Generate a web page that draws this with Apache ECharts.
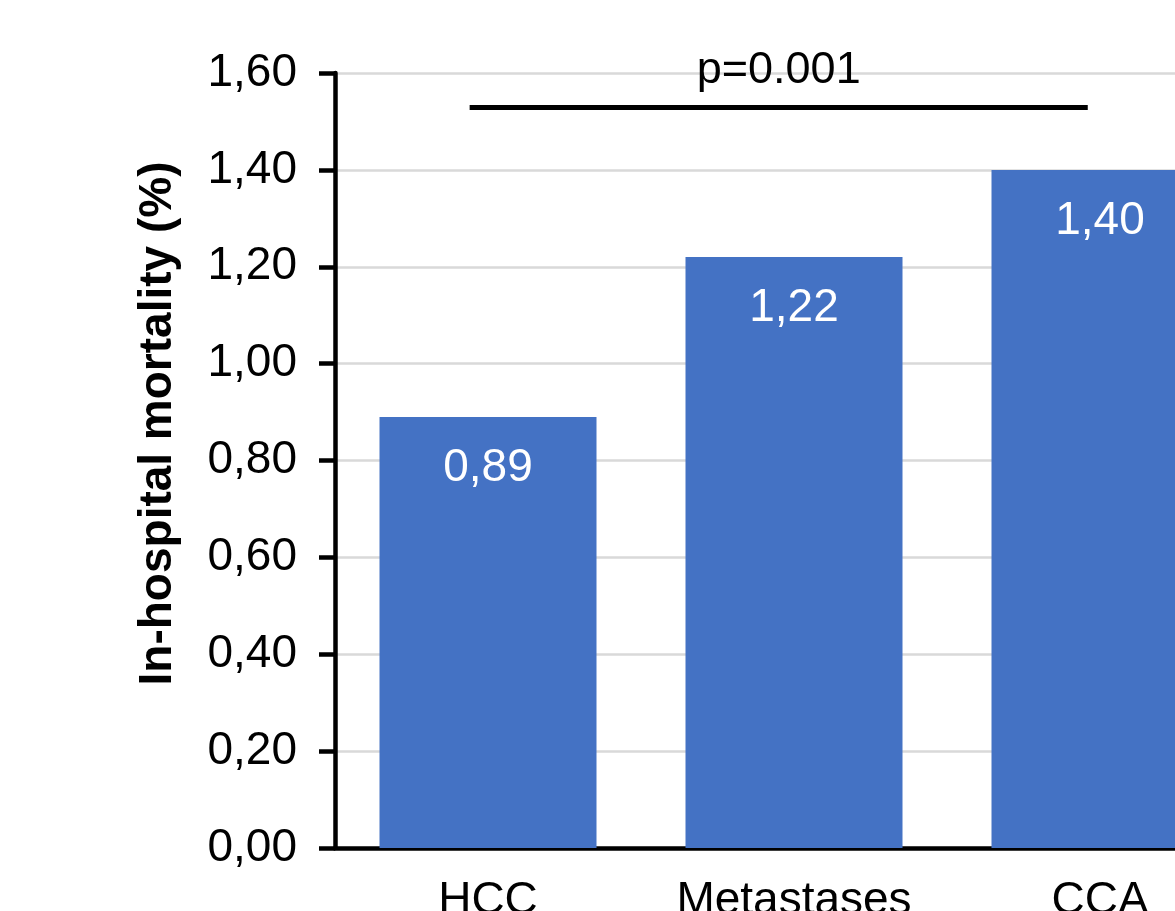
<!DOCTYPE html>
<html>
<head>
<meta charset="utf-8">
<script src="https://cdn.jsdelivr.net/npm/echarts@6/dist/echarts.min.js"></script>
<style>
  html, body { margin: 0; padding: 0; background: #fff; }
  #chart { width: 1175px; height: 911px; }
</style>
</head>
<body>
<div id="chart"></div>
<script>
var categories = ['HCC', 'Metastases', 'CCA'];
var mortality = [0.89, 1.22, 1.40];
var yTickLabels = ['0,00', '0,20', '0,40', '0,60', '0,80', '1,00', '1,20', '1,40', '1,60'];
// significance bracket, x in category units (0 = HCC centre)
var pLineX = [-0.06, 1.96];
var pLineY = 1.53;
var pText = 'p=0.001';

var font = 'Liberation Sans, Arial, sans-serif';
var chart = echarts.init(document.getElementById('chart'));

var option = {
  animation: false,
  backgroundColor: '#fff',
  grid: {
    left: 335,
    right: -78,
    top: 73,
    bottom: 63,
    containLabel: false,
    outerBoundsMode: 'none'
  },
  xAxis: [
    {
      type: 'category',
      data: categories,
      axisLine: { lineStyle: { color: '#000', width: 4.5 } },
      axisTick: { show: false },
      axisLabel: { color: '#000', fontSize: 46, fontFamily: font, margin: 30, interval: 0 }
    },
    {
      type: 'value',
      min: -0.5,
      max: 2.5,
      show: false
    }
  ],
  yAxis: {
    type: 'value',
    min: 0,
    max: 1.6,
    interval: 0.2,
    name: 'In-hospital mortality (%)',
    nameLocation: 'middle',
    nameGap: 154,
    nameTextStyle: {
      color: '#000', fontSize: 46, fontWeight: 'bold', fontFamily: font,
      padding: [0, 0, 0, 74]
    },
    axisLine: { show: true, onZero: false, lineStyle: { color: '#000', width: 4.5 } },
    axisTick: { show: true, length: 16, lineStyle: { color: '#000', width: 4.5 } },
    axisLabel: {
      color: '#000', fontSize: 46, fontFamily: font, margin: 38,
      formatter: function (val) {
        return yTickLabels[Math.round(val / 0.2)];
      }
    },
    splitLine: { lineStyle: { color: '#d9d9d9', width: 2.5 } }
  },
  series: [
    {
      type: 'bar',
      data: mortality,
      barWidth: 217,
      itemStyle: { color: '#4472C4' },
      label: {
        show: true,
        position: 'insideTop',
        distance: 28,
        color: '#fff',
        fontSize: 46,
        fontFamily: font,
        formatter: function (p) {
          return p.value.toFixed(2).replace('.', ',');
        }
      }
    },
    {
      type: 'line',
      xAxisIndex: 1,
      data: [],
      symbol: 'none',
      markLine: {
        silent: true,
        symbol: 'none',
        lineStyle: { color: '#000', width: 5, type: 'solid' },
        label: {
          show: true,
          position: 'middle',
          distance: 14,
          color: '#000',
          fontSize: 45,
          fontFamily: font,
          formatter: pText
        },
        data: [[
          { coord: [pLineX[0], pLineY] },
          { coord: [pLineX[1], pLineY] }
        ]]
      }
    }
  ]
};

chart.setOption(option);
</script>
</body>
</html>
